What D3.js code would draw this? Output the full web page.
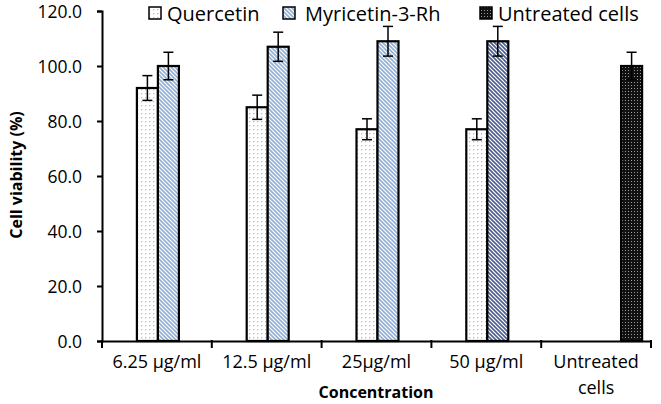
<!DOCTYPE html>
<html><head><meta charset="utf-8">
<script src="https://cdn.jsdelivr.net/npm/d3@7"></script>
<style>body{margin:0;background:#fff}svg{display:block}text{font-family:"Open Sans",sans-serif;fill:#000}</style>
</head><body><div id="chart"></div>
<script>
const categories = ["6.25 µg/ml","12.5 µg/ml","25µg/ml","50 µg/ml","Untreated cells"];
const quercetin = [92, 85, 77, 77, null];
const quercetinErr = [4.5, 4.4, 3.8, 3.8, null];
const myricetin = [100, 107, 109, 109, null];
const myricetinErr = [5, 5.3, 5.4, 5.4, null];
const untreated = [null, null, null, null, 100];
const untreatedErr = [null, null, null, null, 5];
const yTicks = [0,20,40,60,80,100,120];
const seriesNames = ["Quercetin","Myricetin-3-Rh","Untreated cells"];

const W = 661, H = 404;
const svg = d3.select("#chart").append("svg").attr("width", W).attr("height", H);
const defs = svg.append("defs");
const pd = defs.append("pattern").attr("id","dots").attr("patternUnits","userSpaceOnUse").attr("width",4).attr("height",4);
pd.append("rect").attr("width",4).attr("height",4).attr("fill","#fff");
pd.append("rect").attr("x",1).attr("y",1).attr("width",1.3).attr("height",1.3).attr("fill","#a9c0de");
function stripes(id, col){
  const p = defs.append("pattern").attr("id",id).attr("patternUnits","userSpaceOnUse").attr("width",4).attr("height",4);
  p.append("rect").attr("width",4).attr("height",4).attr("fill","#fff");
  p.append("path").attr("d","M-1,-1 L5,5 M-1,3 L1,5 M3,-1 L5,1").attr("stroke",col).attr("stroke-width",1.6);
}
stripes("stripes","#8fb0d8");
stripes("stripesDark","#4b5f92");
const pc = defs.append("pattern").attr("id","checks").attr("patternUnits","userSpaceOnUse").attr("width",3).attr("height",3);
pc.append("rect").attr("width",3).attr("height",3).attr("fill","#111");
pc.append("rect").attr("x",1).attr("y",1).attr("width",1).attr("height",1).attr("fill","#9a9a9a");

const x0 = 102, x1 = 651, yTop = 11, yBot = 341;
const x = d3.scaleBand().domain(categories).range([x0, x1]);
const y = d3.scaleLinear().domain([0,120]).range([yBot, yTop]);

const ya = svg.append("g").attr("transform",`translate(${x0},0)`)
  .call(d3.axisLeft(y).tickValues(yTicks).tickFormat(d3.format(".1f")).tickSize(5).tickPadding(15));
ya.select(".domain").attr("stroke","#000").attr("stroke-width",2);
ya.selectAll(".tick line").attr("stroke","#000").attr("stroke-width",2);
ya.selectAll("text").style("font-size","17.5px").attr("dy","0.38em");

const xa = svg.append("g").attr("transform",`translate(0,${yBot})`)
  .call(d3.axisBottom(x).tickSize(0).tickFormat(""));
xa.select(".domain").attr("stroke","#000").attr("stroke-width",2);
const tickPos = categories.map(c => x(c)).concat([x1]);
svg.selectAll(".xt").data(tickPos).enter().append("line")
  .attr("x1",d=>d).attr("x2",d=>d).attr("y1",yBot-1).attr("y2",yBot+7)
  .attr("stroke","#000").attr("stroke-width",2);
categories.forEach(c => {
  const cx = x(c) + x.bandwidth()/2;
  const parts = c === "Untreated cells" ? ["Untreated","cells"] : [c];
  parts.forEach((p,i) => svg.append("text").attr("x",cx).attr("y",368 + i*26)
    .attr("text-anchor","middle").style("font-size","18px").text(p));
});

const bw = 21;
function drawSeries(vals, errs, offset, fillFn){
  const g = svg.append("g");
  categories.forEach((c,i) => {
    if (vals[i] == null) return;
    const cx = x(c) + x.bandwidth()/2 + offset;
    g.append("rect").attr("x",cx).attr("y",y(vals[i])).attr("width",bw).attr("height",yBot - y(vals[i]))
      .attr("fill",fillFn(i)).attr("stroke","#000").attr("stroke-width",2.2);
  });
  categories.forEach((c,i) => {
    if (vals[i] == null) return;
    const mx = x(c) + x.bandwidth()/2 + offset + bw/2;
    const t = y(vals[i]+errs[i]), b = y(vals[i]-errs[i]);
    g.append("line").attr("x1",mx).attr("x2",mx).attr("y1",t).attr("y2",b).attr("stroke","#000").attr("stroke-width",1.5);
    [t,b].forEach(v => g.append("line").attr("x1",mx-5).attr("x2",mx+5).attr("y1",v).attr("y2",v).attr("stroke","#000").attr("stroke-width",1.5));
  });
}
drawSeries(quercetin, quercetinErr, -20, () => "url(#dots)");
drawSeries(myricetin, myricetinErr, 1, i => i === 3 ? "url(#stripesDark)" : "url(#stripes)");
drawSeries(untreated, untreatedErr, 25, () => "url(#checks)");

const legBox = [149, 283, 480];
const legText = [167, 305, 498];
const legFill = ["url(#dots)","url(#stripes)","url(#checks)"];
seriesNames.forEach((n,i) => {
  svg.append("rect").attr("x",legBox[i]).attr("y",7).attr("width",12).attr("height",12)
    .attr("fill",legFill[i]).attr("stroke","#000").attr("stroke-width",1.5);
  svg.append("text").attr("x",legText[i]).attr("y",20.5).style("font-size","20px").text(n);
});

svg.append("text").attr("x",376).attr("y",398).attr("text-anchor","middle")
  .style("font-size","16px").style("font-weight","bold").text("Concentration");
svg.append("text").attr("transform","translate(22,175) rotate(-90)").attr("text-anchor","middle")
  .style("font-size","16px").style("font-weight","bold").text("Cell viability (%)");
</script></body></html>
